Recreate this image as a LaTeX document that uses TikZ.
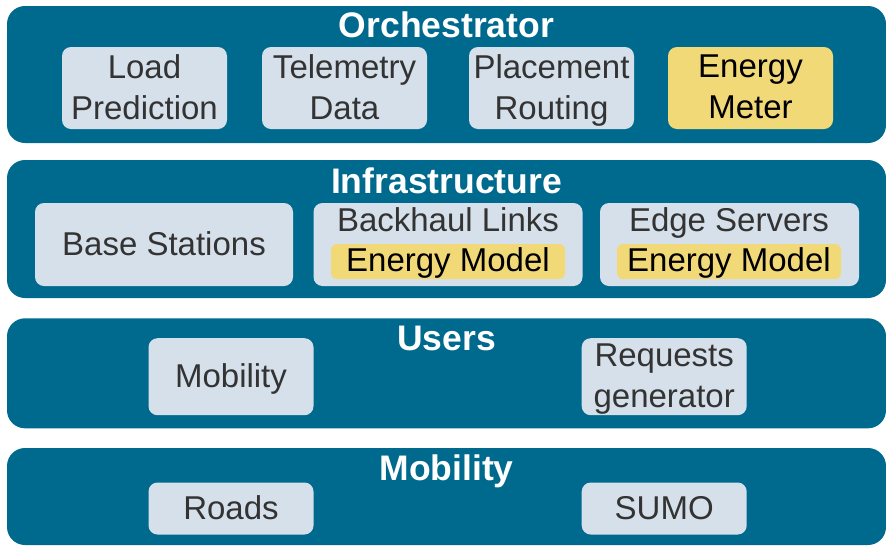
\documentclass[tikz,border=0pt]{standalone}
\usepackage{fontspec}
\setmainfont{Liberation Sans}
\definecolor{band}{RGB}{0,106,142}
\definecolor{boxfill}{RGB}{214,224,234}
\definecolor{yel}{RGB}{242,217,120}
\definecolor{txt}{RGB}{51,51,51}
\begin{document}
\begin{tikzpicture}[x=1pt,y=-1pt,
  layer/.style={fill=band, draw=none, rounded corners=18pt, inner sep=0pt},
  title/.style={anchor=base, text=white, font=\fontsize{35.5}{40}\selectfont\bfseries, inner sep=0pt},
  comp/.style={fill=boxfill, draw=none, rounded corners=9pt, inner sep=0pt, align=center,
    text=txt, font=\fontsize{33}{41}\selectfont, text depth=2pt},
  hl/.style={fill=yel, draw=none, rounded corners=6pt, inner sep=0pt,
    text=black, font=\fontsize{33}{41}\selectfont, text depth=3pt},
  lbl/.style={anchor=base, text=txt, font=\fontsize{33}{41}\selectfont, inner sep=0pt}
]
\useasboundingbox (0,0) rectangle (886,547);

% Orchestrator layer
\node[layer, minimum width=879pt, minimum height=137pt] (orch) at (446.5,74.5) {};
\node[title] (orchT) at (446.5,37) {Orchestrator};
\node[comp, minimum width=165pt, minimum height=82pt] (load) at (144.5,88) {Load\\Prediction};
\node[comp, minimum width=165pt, minimum height=82pt] (tele) at (344.5,88) {Telemetry\\Data};
\node[comp, minimum width=165pt, minimum height=82pt] (place) at (551.5,88) {Placement\\Routing};
\node[comp, fill=yel, text=black, minimum width=165pt, minimum height=82pt] (meter) at (750.5,88) {Energy\\Meter};

% Infrastructure layer
\node[layer, minimum width=879pt, minimum height=138pt] (infra) at (446.5,229) {};
\node[title] (infraT) at (446.5,193.3) {Infrastructure};
\node[comp, minimum width=258pt, minimum height=83pt] (bs) at (164,244.5) {Base Stations};
\node[comp, minimum width=269pt, minimum height=83pt] (bh) at (448,244.5) {};
\node[lbl] (bhT) at (448,231) {Backhaul Links};
\node[hl, minimum width=234pt, minimum height=35pt] (bhE) at (448,261.5) {Energy Model};
\node[comp, minimum width=259pt, minimum height=83pt] (es) at (729.5,244.5) {};
\node[lbl] (esT) at (729,231) {Edge Servers};
\node[hl, minimum width=224pt, minimum height=35pt] (esE) at (729,261.5) {Energy Model};

% Users layer
\node[layer, minimum width=879pt, minimum height=110pt] (users) at (446.5,373.3) {};
\node[title] (usersT) at (446.5,350.7) {Users};
\node[comp, minimum width=165pt, minimum height=77pt] (umob) at (231,376.7) {Mobility};
\node[comp, minimum width=165pt, minimum height=77pt] (req) at (664.2,376.7) {Requests\\generator};

% Mobility layer
\node[layer, minimum width=879pt, minimum height=97pt] (mob) at (446.5,496.5) {};
\node[title] (mobT) at (446.5,480) {Mobility};
\node[comp, minimum width=165pt, minimum height=52pt] (roads) at (231,508.5) {Roads};
\node[comp, minimum width=165pt, minimum height=52pt] (sumo) at (664.2,508.5) {SUMO};
\end{tikzpicture}
\end{document}
